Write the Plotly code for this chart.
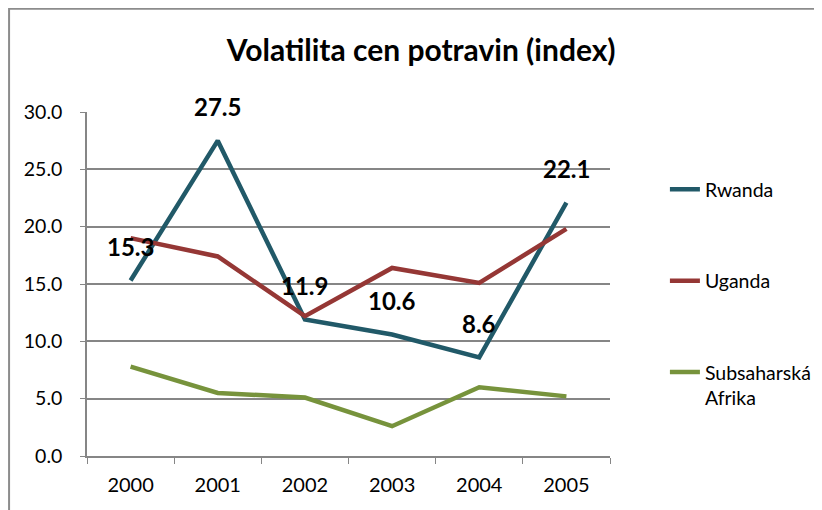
import plotly.graph_objects as go

years = ["2000", "2001", "2002", "2003", "2004", "2005"]
rwanda = [15.3, 27.5, 11.9, 10.6, 8.6, 22.1]
uganda = [19.0, 17.4, 12.2, 16.4, 15.1, 19.8]
ssa = [7.8, 5.5, 5.1, 2.6, 6.0, 5.2]
rwanda_labels = ["15.3", "27.5", "11.9", "10.6", "8.6", "22.1"]
y_ticks = [0, 5, 10, 15, 20, 25, 30]
y_tick_text = ["0.0", "5.0", "10.0", "15.0", "20.0", "25.0", "30.0"]

FONT = "Lato"
fig = go.Figure()
fig.add_trace(go.Scatter(x=years, y=rwanda, mode="lines", name="Rwanda",
                         line=dict(color="#215968", width=4.5), legendgroup="a"))
fig.add_trace(go.Scatter(x=years, y=uganda, mode="lines", name="Uganda",
                         line=dict(color="#953735", width=4.5), legendgroup="b"))
fig.add_trace(go.Scatter(x=years, y=ssa, mode="lines", name="Subsaharská<br>Afrika",
                         line=dict(color="#77933C", width=4.5), legendgroup="c"))

for i, (y, t) in enumerate(zip(rwanda, rwanda_labels)):
    fig.add_annotation(x=i, y=y, text="<b>%s</b>" % t, showarrow=False, yshift=34,
                       font=dict(family=FONT, size=24, color="black"))

fig.add_shape(type="rect", xref="paper", yref="paper", x0=-0.149, x1=1.6, y0=-0.6, y1=1.3,
              line=dict(color="#8c8c8c", width=2), fillcolor="rgba(0,0,0,0)", layer="below")

fig.update_layout(
    width=822, height=510,
    margin=dict(l=79, r=220, t=104, b=62),
    paper_bgcolor="white", plot_bgcolor="white",
    title=dict(text="<b>Volatilita cen potravin (index)</b>", x=0.5027, xanchor="center",
               y=0.9176, yanchor="middle", font=dict(family=FONT, size=30, color="black")),
    font=dict(family=FONT, size=17, color="black"),
    legend=dict(x=1.105, y=0.831, xanchor="left", yanchor="top", tracegroupgap=63,
                font=dict(family=FONT, size=19.5), valign="top", bgcolor="rgba(0,0,0,0)"),
    xaxis=dict(type="category", range=[-0.5, 5.5], autorange=False, showline=True,
               linecolor="#868686", linewidth=1.5,
               ticks="outside", tickson="boundaries", ticklen=6, tickcolor="#868686",
               showgrid=False, tickfont=dict(family=FONT, size=20), ticklabelstandoff=10),
    yaxis=dict(range=[0, 30], tickvals=y_ticks, ticktext=y_tick_text, showline=True,
               linecolor="#868686", linewidth=1.5, ticks="outside", ticklen=5,
               tickcolor="#868686", gridcolor="#868686", gridwidth=1.5, zeroline=False,
               tickfont=dict(family=FONT, size=19.5), ticklabelstandoff=14),
)

fig.write_html("out.html")
